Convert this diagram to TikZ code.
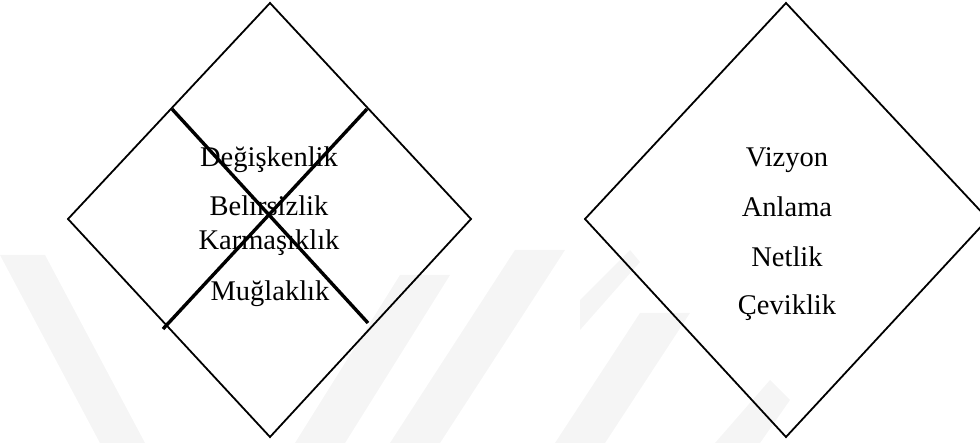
\documentclass[tikz,border=0pt]{standalone}
\usepackage{fontspec}
\setmainfont{Liberation Serif}
\begin{document}
\begin{tikzpicture}[x=1pt,y=-1pt,
  edge/.style={draw=black,line width=1.8pt,line join=miter},
  cross/.style={draw=black,line width=3.4pt},
  word/.style={anchor=base,inner sep=0pt,font=\fontsize{28.5}{30}\selectfont},
  band/.style={fill=black!4,draw=none}]
\useasboundingbox (0,0) rectangle (980,443);
% faint watermark bands
\fill[band] (0,255) -- (45,255) -- (145,443) -- (100,443) -- cycle;
\fill[band] (295,443) -- (345,443) -- (450,275) -- (400,275) -- cycle;
\fill[band] (390,443) -- (440,443) -- (565,250) -- (515,250) -- cycle;
\fill[band] (555,443) -- (605,443) -- (690,313) -- (640,313) -- cycle;
\fill[band] (580,330) -- (580,300) -- (630,250) -- (640,262) -- cycle;
\fill[band] (715,443) -- (760,443) -- (790,400) -- (770,380) -- cycle;
% left diamond
\coordinate (LT) at (270,3);
\coordinate (LL) at (68,219);
\coordinate (LB) at (270,437);
\coordinate (LR) at (471,219);
\draw[edge] (LT) -- (LR) -- (LB) -- (LL) -- cycle;
% cross
\coordinate (C1a) at (172,109);
\coordinate (C1b) at (368,323);
\coordinate (C2a) at (367,109);
\coordinate (C2b) at (163,329);
\draw[cross] (C1a) -- (C1b);
\draw[cross] (C2a) -- (C2b);
% right diamond
\coordinate (RT) at (786,3);
\coordinate (RL) at (585,219);
\coordinate (RB) at (786,437);
\coordinate (RR) at (988,219);
\draw[edge] (RT) -- (RR) -- (RB) -- (RL) -- cycle;
% texts
\node[word] (t1) at (269,167) {Değişkenlik};
\node[word] (t2) at (269,216) {Belirsizlik};
\node[word] (t3) at (269,250) {Karmaşıklık};
\node[word] (t4) at (270,301) {Muğlaklık};
\node[word] (r1) at (787,167) {Vizyon};
\node[word] (r2) at (787,217) {Anlama};
\node[word] (r3) at (787,267) {Netlik};
\node[word] (r4) at (787,315) {Çeviklik};
\end{tikzpicture}
\end{document}
